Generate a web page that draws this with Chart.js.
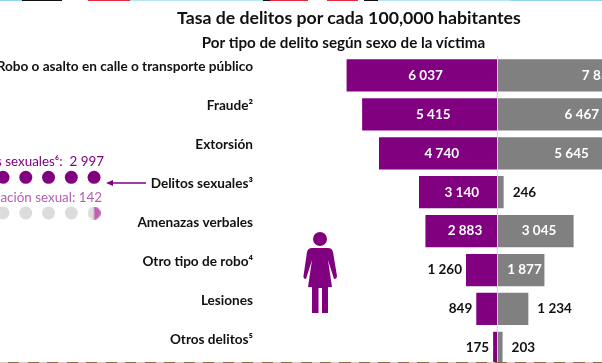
<!DOCTYPE html>
<html>
<head>
<meta charset="utf-8">
<script src="https://cdn.jsdelivr.net/npm/chart.js@4"></script>
<style>
  html, body { margin: 0; padding: 0; width: 602px; height: 363px; overflow: hidden; background: #fff; }
  body { position: relative; font-family: Lato, sans-serif; }
  canvas { position: absolute; }
  #chartBox { position: absolute; left: 0; top: 0; width: 798px; height: 395px; }
  #chart { left: 0; top: 0; }
  #dots { left: 0; top: 165px; }
  .txt { position: absolute; white-space: pre; color: #111; font-weight: bold; }
  #title { left: 177px; width: 332px; top: 7px; text-align: center; font-size: 17.7px; }
  #subtitle { left: 181px; width: 325px; top: 33px; text-align: center; font-size: 15.2px; }
  .note { right: 498px; font-size: 13.4px; font-weight: normal; }
  #note1 { top: 153px; color: #800080; }
  #note2 { top: 189px; color: #b15fb0; right: 500px; }
  #topstrip { position: absolute; left: 0; top: 0; width: 602px; height: 1px;
    background: linear-gradient(to right, #8fd6ee 0 22px, #111 22px 62px, #fff 62px 88px, #e8273c 88px 130px,
      #b5e5f3 130px 263px, #111 263px 270px, #e8273c 270px 308px, #fff 308px 327px, #e8273c 327px 358px,
      #fff 358px 364px, #111 364px 378px, #b5e5f3 378px 510px, #8fd6ee 510px 602px); }
  #bottomstrip { position: absolute; left: 0; top: 362px; width: 602px; height: 1px;
    background: repeating-linear-gradient(to right, #d8d0c0 0 8px, #8a6a45 8px 19.5px); }
  #art { position: absolute; left: 0; top: 0; }
</style>
</head>
<body>
<div id="chartBox"><canvas id="chart" width="798" height="395"></canvas></div>
<canvas id="dots" width="120" height="60"></canvas>
<svg id="art" width="602" height="363">
  <line x1="146" y1="183" x2="112" y2="183" stroke="#800080" stroke-width="1.4"/>
  <path d="M106 183 L113 180 L113 186 Z" fill="#800080"/>
  <circle cx="320" cy="239" r="7" fill="#800080"/>
  <path d="M312 248 H328 Q332 248 333 252 L337 276 Q337 279 334 279 L328 260 L332 287 H328 V313 H322 V288 H318.5 V313 H312 V287 H308 L312 260 L306 279 Q303 279 303.5 276 L307 252 Q308 248 312 248 Z" fill="#800080"/>
</svg>
<div class="txt" id="title">Tasa de delitos por cada 100,000 habitantes</div>
<div class="txt" id="subtitle">Por tipo de delito según sexo de la víctima</div>
<div class="txt note" id="note1">Hostigamientos sexuales⁶:  2 997</div>
<div class="txt note" id="note2">Violación sexual: 142</div>
<div id="topstrip"></div>
<div id="bottomstrip"></div>
<script>
const categories = ['Robo o asalto en calle o transporte público', 'Fraude²', 'Extorsión', 'Delitos sexuales³',
  'Amenazas verbales', 'Otro tipo de robo⁴', 'Lesiones', 'Otros delitos⁵'];
const mujeres = [6037, 5415, 4740, 3140, 2883, 1260, 849, 175];
const hombres = [7850, 6467, 5645, 246, 3045, 1877, 1234, 203];

// dots of the sexual offences note, one column per dot
const dotColumns = [1, 2, 3, 4, 5];
const dotRowTop = 1;
const dotRowBottom = 2;
const halfDotColumn = 5;

function fmt(v) {
  return String(v).replace(/\B(?=(\d{3})+$)/g, ' ');
}

// zero seam and value labels, inside the bar when it fits, outside otherwise
const barLabels = {
  id: 'barLabels',
  afterDatasetsDraw(chart) {
    const ctx = chart.ctx;
    const x = chart.scales.x;
    const area = chart.chartArea;
    ctx.save();
    ctx.strokeStyle = '#d5dcd5';
    ctx.lineWidth = 1;
    ctx.beginPath();
    ctx.moveTo(x.getPixelForValue(0), area.top);
    ctx.lineTo(x.getPixelForValue(0), area.bottom);
    ctx.stroke();
    ctx.font = 'bold 13.5px Lato, sans-serif';
    ctx.textBaseline = 'middle';
    chart.data.datasets.forEach((ds, d) => {
      chart.getDatasetMeta(d).data.forEach((bar, i) => {
        const v = ds.data[i];
        const w = Math.abs(x.getPixelForValue(v) - x.getPixelForValue(0));
        const sign = v < 0 ? -1 : 1;
        const txt = fmt(Math.abs(v));
        if (w > 40) {
          ctx.fillStyle = '#fff';
          ctx.textAlign = 'center';
          ctx.fillText(txt, x.getPixelForValue(v / 2) + 3.5, bar.y);
        } else {
          ctx.fillStyle = '#111';
          ctx.textAlign = sign < 0 ? 'right' : 'left';
          ctx.fillText(txt, x.getPixelForValue(v) + sign * (sign < 0 ? 4 : 9), bar.y);
        }
      });
    });
    ctx.restore();
  }
};

new Chart(document.getElementById('chart'), {
  type: 'bar',
  data: {
    labels: categories,
    datasets: [
      { label: 'Mujeres', data: mujeres.map((v) => -v), backgroundColor: '#800080' },
      { label: 'Hombres', data: hombres, backgroundColor: '#808080' }
    ]
  },
  options: {
    indexAxis: 'y',
    responsive: false,
    animation: false,
    barPercentage: 0.83,
    categoryPercentage: 1,
    layout: { autoPadding: false, padding: { top: 56, left: 0, right: 0.5, bottom: 0 } },
    plugins: { legend: { display: false }, tooltip: { enabled: false } },
    scales: {
      x: { stacked: true, display: false, min: -9000, max: 12000 },
      y: {
        stacked: true,
        afterFit: (axis) => { axis.width = 272.5; },
        border: { display: false },
        grid: { display: false, drawTicks: false },
        ticks: { padding: 19.5, labelOffset: -8.5, color: '#111', autoSkip: false, font: { family: 'Lato, sans-serif', size: 13.6, weight: 'bold' } }
      }
    }
  },
  plugins: [barLabels]
});

// half pink, half grey dot for the last place of the bottom row
const halfDot = document.createElement('canvas');
halfDot.width = 13;
halfDot.height = 13;
const hc = halfDot.getContext('2d');
hc.fillStyle = '#dcdcdc';
hc.beginPath();
hc.arc(6.5, 6.5, 6.5, 0, Math.PI * 2);
hc.fill();
hc.fillStyle = '#c060b0';
hc.beginPath();
hc.arc(6.5, 6.5, 6.5, -Math.PI / 2, Math.PI / 2);
hc.fill();

new Chart(document.getElementById('dots'), {
  type: 'scatter',
  data: {
    datasets: [
      {
        data: dotColumns.map((c) => ({ x: c, y: dotRowTop })),
        pointRadius: 6.5,
        backgroundColor: '#800080',
        borderWidth: 0
      },
      {
        data: dotColumns.map((c) => ({ x: c, y: dotRowBottom })),
        pointRadius: 6.5,
        backgroundColor: '#dcdcdc',
        pointStyle: dotColumns.map((c) => (c === halfDotColumn ? halfDot : 'circle')),
        borderWidth: 0
      }
    ]
  },
  options: {
    responsive: false,
    animation: false,
    layout: { autoPadding: false, padding: 0 },
    plugins: { legend: { display: false }, tooltip: { enabled: false } },
    scales: {
      x: { display: false, min: 0.868, max: 6.14 },
      y: { display: false, reverse: true, min: 0.655, max: 2.336 }
    }
  }
});
</script>
</body>
</html>
